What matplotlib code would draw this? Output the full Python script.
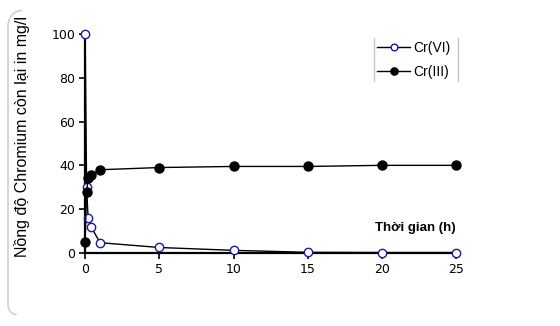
import numpy as np
import matplotlib.pyplot as plt
from matplotlib.patches import Arc

# time (h)
t = [0, 0.1, 0.2, 0.4, 1, 5, 10, 15, 20, 25]
cr6 = [100, 30, 16, 12, 4.7, 2.5, 1.2, 0.3, 0.2, 0.2]
cr3 = [5, 28, 34, 35.5, 38, 39, 39.5, 39.5, 40, 40]

ylabel = 'Nồng độ Chromium còn lại in mg/l'
xlabel = 'Thời gian (h)'

plt.rcParams['font.family'] = ['Liberation Sans', 'DejaVu Sans']

fig = plt.figure(figsize=(5.6, 3.26), dpi=100)
ax = fig.add_axes([0.152, 0.224, 0.668, 0.672])

ax.plot(t, cr6, '-o', color='black', lw=1.0, mfc='white', mec='#1a1aa0',
        mew=1.0, ms=6, clip_on=False, zorder=3, label='Cr(VI)')
ax.plot(t, cr3, '-o', color='black', lw=1.0, ms=6.5, clip_on=False,
        zorder=3, label='Cr(III)')

ax.set_xlim(0, 25.2)
ax.set_ylim(0, 100)
ax.set_xticks([0, 5, 10, 15, 20, 25])
ax.set_yticks([0, 20, 40, 60, 80, 100])
for s in ['top', 'right']:
    ax.spines[s].set_visible(False)
for s in ['left', 'bottom']:
    ax.spines[s].set_linewidth(1.6)
ax.tick_params(direction='out', length=4, width=1.2, pad=3)
for lab in ax.get_xticklabels() + ax.get_yticklabels():
    lab.set_family(['DejaVu Sans'])
    lab.set_fontsize(9)

ax.set_ylabel(ylabel, fontsize=11.5)
ax.yaxis.set_label_coords(-0.148, 0.53)
ax.text(0.99, 0.115, xlabel, transform=ax.transAxes, ha='right',
        va='center', fontsize=9.5, fontweight='bold')

leg = ax.legend(loc='upper left', bbox_to_anchor=(0.765, 0.995), frameon=False,
                fontsize=10, handlelength=2.4, handletextpad=0.2,
                borderaxespad=0, labelspacing=0.75, markerscale=0.8)

# thin gray bars either side of the legend
fig.canvas.draw()
bb = leg.get_window_extent().transformed(fig.transFigure.inverted())
for xx in [bb.x0 + 0.004, bb.x1 + 0.004]:
    fig.add_artist(plt.Line2D([xx, xx], [bb.y0 + 0.01, bb.y1 - 0.01],
                              color='#c8c8c8', lw=1.0))

# rounded left edge of the frame
fig.add_artist(plt.Line2D([0.015, 0.015], [0.06, 0.925], color='#d0d0d0', lw=1.2))
fig.add_artist(Arc((0.04, 0.925), 0.05, 0.086, theta1=90, theta2=180,
                   transform=fig.transFigure, color='#d0d0d0', lw=1.2))
fig.add_artist(Arc((0.03, 0.06), 0.03, 0.05, theta1=180, theta2=270,
                   transform=fig.transFigure, color='#d0d0d0', lw=1.2))

fig.savefig('out.png', dpi=100)
